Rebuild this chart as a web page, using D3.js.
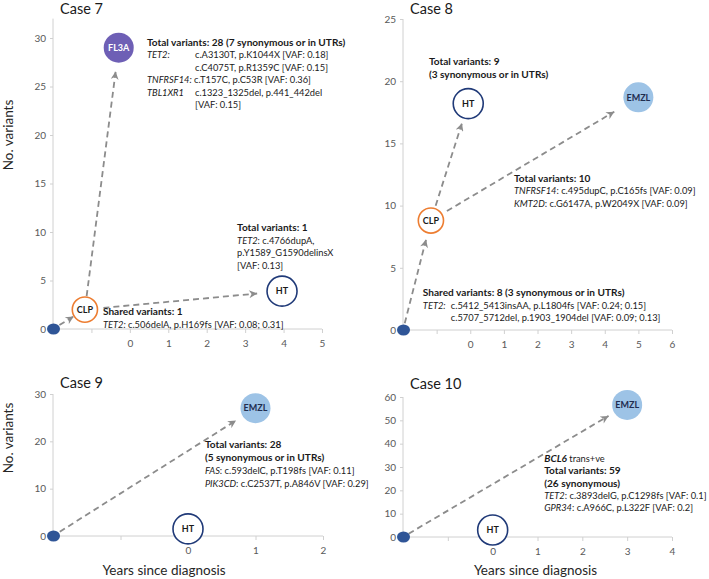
<!DOCTYPE html>
<html><head><meta charset="utf-8">
<script src="https://cdn.jsdelivr.net/npm/d3@7"></script>
<style>
html,body{margin:0;padding:0;background:#fff;}
svg{display:block;}
text{font-family:Lato,"Liberation Sans",sans-serif;}
</style></head>
<body>
<svg id="chart" width="709" height="579"></svg>
<script>
// ---------- DATA ----------
const caseTitles = ["Case 7", "Case 8", "Case 9", "Case 10"];

const case7Nodes = [
  {id:"o", label:"", x:-2, y:0, type:"origin"},
  {id:"CLP", label:"CLP", x:-1.17, y:2, type:"CLP"},
  {id:"FL3A", label:"FL3A", x:-0.29, y:29, type:"FL3A"},
  {id:"HT", label:"HT", x:3.96, y:3.9, type:"HT"}
];
const case8Nodes = [
  {id:"o", label:"", x:-2, y:0, type:"origin"},
  {id:"CLP", label:"CLP", x:-1.17, y:8.8, type:"CLP"},
  {id:"HT", label:"HT", x:-0.06, y:18.2, type:"HT"},
  {id:"EMZL", label:"EMZL", x:5, y:18.7, type:"EMZL"}
];
const case9Nodes = [
  {id:"o", label:"", x:-2, y:0, type:"origin"},
  {id:"HT", label:"HT", x:0, y:1.5, type:"HT"},
  {id:"EMZL", label:"EMZL", x:1, y:27, type:"EMZL"}
];
const case10Nodes = [
  {id:"o", label:"", x:-2, y:0, type:"origin"},
  {id:"HT", label:"HT", x:0, y:3, type:"HT"},
  {id:"EMZL", label:"EMZL", x:3, y:56.6, type:"EMZL"}
];

const case7Links = [["o","CLP"],["CLP","FL3A"],["CLP","HT"]];
const case8Links = [["o","CLP"],["CLP","HT"],["CLP","EMZL"]];
const case9Links = [["o","EMZL"]];
const case10Links = [["o","EMZL"]];

const case7YTicks = [0,5,10,15,20,25,30];
const case8YTicks = [0,5,10,15,20,25];
const case9YTicks = [0,10,20,30];
const case10YTicks = [0,10,20,30,40,50,60];
const case7XTicks = [-2,-1,0,1,2,3,4,5];
const case8XTicks = [-2,-1,0,1,2,3,4,5,6];
const case9XTicks = [-2,-1,0,1,2];
const case10XTicks = [-2,-1,0,1,2,3,4];

// annotation texts: each line = list of [text, style, tab?]
const case7Notes = [
  {x:0.445, y:29.2, lines:[
    [["Total variants: 28 (7 synonymous or in UTRs)","b"]],
    [["TET2:","i"],["c.A3130T, p.K1044X [VAF: 0.18]","n",48]],
    [["c.C4075T, p.R1359C [VAF: 0.15]","n",48]],
    [["TNFRSF14:","i"],[" c.T157C, p.C53R [VAF: 0.36]","n"]],
    [["TBL1XR1","i"],["c.1323_1325del, p.441_442del","n",48]],
    [["[VAF: 0.15]","n",48]]
  ]},
  {x:-0.70, y:1.44, lines:[
    [["Shared variants: 1","b"]],
    [["TET2:","i"],["c.506delA, p.H169fs [VAF: 0.08; 0.31]","n",25]]
  ]},
  {x:2.79, y:10.1, lines:[
    [["Total variants: 1","b"]],
    [["TET2","i"],[": c.4766dupA,","n"]],
    [["p.Y1589_G1590delinsX","n"]],
    [["[VAF: 0.13]","n"]]
  ]}
];
const case8Notes = [
  {x:-1.23, y:21.3, lines:[
    [["Total variants: 9","b"]],
    [["(3 synonymous or in UTRs)","b"]]
  ]},
  {x:1.30, y:11.9, lines:[
    [["Total variants: 10","b"]],
    [["TNFRSF14","i"],[": c.495dupC, p.C165fs [VAF: 0.09]","n"]],
    [["KMT2D","i"],[": c.G6147A, p.W2049X [VAF: 0.09]","n"]]
  ]},
  {x:-1.41, y:2.73, lines:[
    [["Shared variants: 8 (3 synonymous or in UTRs)","b"]],
    [["TET2:","i"],["c.5412_5413insAA, p.L1804fs [VAF: 0.24; 0.15]","n",28]],
    [["c.5707_5712del, p.1903_1904del [VAF: 0.09; 0.13]","n",28]]
  ]}
];
const case9Notes = [
  {x:0.25, y:18.6, lines:[
    [["Total variants: 28","b"]],
    [["(5 synonymous or in UTRs)","b"]],
    [["FAS","i"],[": c.593delC, p.T198fs [VAF: 0.11]","n"]],
    [["PIK3CD","i"],[": c.C2537T, p.A846V [VAF: 0.29]","n"]]
  ]}
];
const case10Notes = [
  {x:1.15, y:32.1, lines:[
    [["BCL6","bi"],[" trans+ve","n"]],
    [["Total variants: 59","b"]],
    [["(26 synonymous)","b"]],
    [["TET2","i"],[": c.3893delG, p.C1298fs [VAF: 0.1]","n"]],
    [["GPR34","i"],[": c.A966C, p.L322F [VAF: 0.2]","n"]]
  ]}
];

// ---------- LAYOUT / STYLE ----------
const layout = [
  {title:caseTitles[0], nodes:case7Nodes, links:case7Links, yTicks:case7YTicks, xTicks:case7XTicks, notes:case7Notes,
   xd:[-2,5], xr:[53,322], yd:[0,32], yr:[329,18.6], titleXY:[60,14], yLabel:135, xLabel:false,
   gaps:[[1.5,0.6],[1,9],[6,10]], lineH:12.5},
  {title:caseTitles[1], nodes:case8Nodes, links:case8Links, yTicks:case8YTicks, xTicks:case8XTicks, notes:case8Notes,
   xd:[-2,6], xr:[403,672], yd:[0,25], yr:[330,19], titleXY:[410,14], yLabel:null, xLabel:false,
   gaps:[[1,7],[3,5.6],[6,13]], lineH:12.5},
  {title:caseTitles[2], nodes:case9Nodes, links:case9Links, yTicks:case9YTicks, xTicks:case9XTicks, notes:case9Notes,
   xd:[-2,2], xr:[53,323], yd:[0,30], yr:[536,394], titleXY:[60,388], yLabel:438, xLabel:true,
   gaps:[[2,8]], lineH:13},
  {title:caseTitles[3], nodes:case10Nodes, links:case10Links, yTicks:case10YTicks, xTicks:case10XTicks, notes:case10Notes,
   xd:[-2,4], xr:[403,672], yd:[0,60], yr:[537,397], titleXY:[410,389], yLabel:null, xLabel:true,
   gaps:[[0.5,6.6],], lineH:12.3}
];

const nodeStyle = {
  origin:{r:6, fill:"#2f5597", stroke:"none", text:"#fff"},
  CLP:{r:12.6, fill:"#fff", stroke:"#ed7d31", text:"#1a1a1a"},
  HT:{r:15, fill:"#fff", stroke:"#203a78", text:"#1a1a1a"},
  FL3A:{r:15, fill:"#6e5fb5", stroke:"none", text:"#fff"},
  EMZL:{r:15, fill:"#9dc3e6", stroke:"none", text:"#1f2d50"}
};

const svg = d3.select("#chart");
const defs = svg.append("defs");
defs.append("marker").attr("id","arr").attr("viewBox","0 0 10 10")
  .attr("refX",10).attr("refY",5).attr("markerWidth",9).attr("markerHeight",8)
  .attr("markerUnits","userSpaceOnUse").attr("orient","auto")
  .append("path").attr("d","M0,0 L10,5 L0,10 L3,5 Z").attr("fill","#8c8c8c");

layout.forEach(p => {
  const x = d3.scaleLinear().domain(p.xd).range(p.xr);
  const y = d3.scaleLinear().domain(p.yd).range(p.yr);
  const g = svg.append("g");

  // title
  g.append("text").attr("x",p.titleXY[0]).attr("y",p.titleXY[1])
    .attr("font-size",14.5).attr("fill","#1a1a1a").text(p.title);

  // y axis
  const ya = g.append("g").attr("transform",`translate(${p.xr[0]},0)`)
    .call(d3.axisLeft(y).tickValues(p.yTicks).tickSize(3).tickPadding(4).tickFormat(d3.format("d")));
  ya.select(".domain").attr("stroke","#d0d0d0").attr("d",`M0,${p.yr[0]}V${p.yr[1]}`);
  ya.selectAll(".tick line").attr("stroke","#d0d0d0");
  ya.selectAll(".tick text").attr("fill","#595959").attr("font-size",10).style("font-family","Lato");

  // x axis
  const xa = g.append("g").attr("transform",`translate(0,${p.yr[0]})`)
    .call(d3.axisBottom(x).tickValues(p.xTicks).tickSize(4).tickPadding(7).tickFormat(d => d >= 0 ? d : ""));
  xa.select(".domain").attr("stroke","#d0d0d0").attr("d",`M${p.xr[0]},0H${p.xr[1]}`);
  xa.selectAll(".tick line").attr("stroke","#d0d0d0");
  xa.selectAll(".tick text").attr("fill","#595959").attr("font-size",10).style("font-family","Lato");

  if (p.yLabel !== null) {
    g.append("text").attr("transform",`translate(13,${p.yLabel}) rotate(-90)`)
      .attr("text-anchor","middle").attr("font-size",13.5).attr("fill","#262626").text("No. variants");
  }
  if (p.xLabel) {
    g.append("text").attr("x",(p.xr[0]+p.xr[1])/2+(p.xr[0]<200?-24:-2)).attr("y",575)
      .attr("text-anchor","middle").attr("font-size",13.5).attr("fill","#262626").text("Years since diagnosis");
  }

  const byId = {};
  p.nodes.forEach(n => byId[n.id] = n);

  // links
  p.links.forEach((l, i) => {
    const a = byId[l[0]], b = byId[l[1]];
    const ax = x(a.x), ay = y(a.y), bx = x(b.x), by = y(b.y);
    const dx = bx-ax, dy = by-ay, len = Math.hypot(dx,dy), ux = dx/len, uy = dy/len;
    const ra = nodeStyle[a.type].r + p.gaps[i][0], rb = nodeStyle[b.type].r + p.gaps[i][1];
    g.append("line")
      .attr("x1",ax+ux*ra).attr("y1",ay+uy*ra).attr("x2",bx-ux*rb).attr("y2",by-uy*rb)
      .attr("stroke","#8c8c8c").attr("stroke-width",1.8).attr("stroke-dasharray","6,4")
      .attr("marker-end","url(#arr)");
  });

  // nodes
  p.nodes.forEach(n => {
    const s = nodeStyle[n.type];
    if (n.type === "origin") {
      g.append("ellipse").attr("cx",x(n.x)+0.5).attr("cy",y(n.y)).attr("rx",6.5).attr("ry",5.5).attr("fill",s.fill);
    } else {
      g.append("circle").attr("cx",x(n.x)).attr("cy",y(n.y)).attr("r",s.r)
        .attr("fill",s.fill).attr("stroke",s.stroke).attr("stroke-width",s.stroke==="none"?0:1.6);
      g.append("text").attr("x",x(n.x)).attr("y",y(n.y)+3.2).attr("text-anchor","middle")
        .attr("font-size",9).attr("font-weight","bold").attr("fill",s.text).text(n.label);
    }
  });

  // notes
  p.notes.forEach(nt => {
    const x0 = x(nt.x), y0 = y(nt.y);
    nt.lines.forEach((line, li) => {
      const t = g.append("text").attr("x",x0).attr("y",y0 + li*p.lineH)
        .attr("font-size",9.3).attr("fill","#1a1a1a");
      line.forEach(seg => {
        const ts = t.append("tspan").text(seg[0]).attr("xml:space","preserve");
        if (seg[2] !== undefined) ts.attr("x", x0 + seg[2]);
        if (seg[1].includes("b")) ts.attr("font-weight","bold").attr("font-size",10.1);
        if (seg[1].includes("i")) ts.attr("font-style","italic");
      });
      t.style("white-space","pre");
    });
  });
});
</script>
</body></html>
